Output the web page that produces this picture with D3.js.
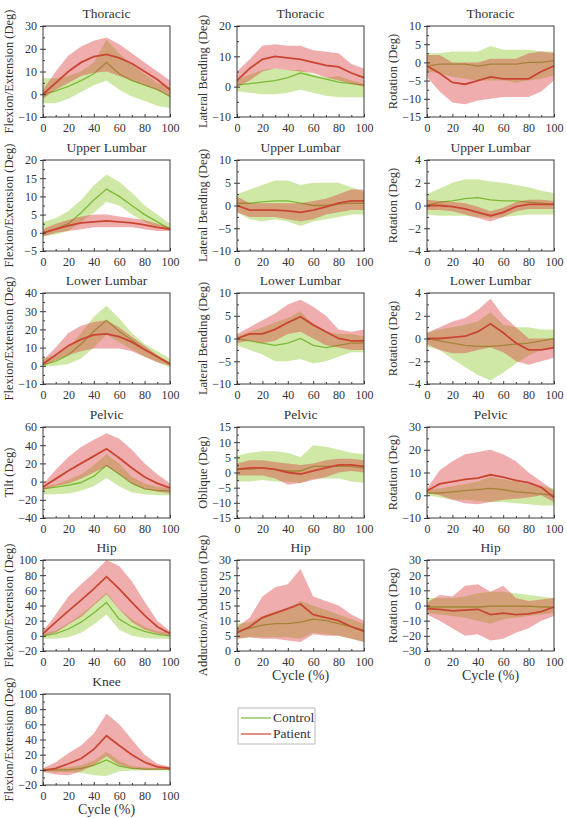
<!DOCTYPE html>
<html><head><meta charset="utf-8">
<script src="https://cdn.jsdelivr.net/npm/d3@7"></script>
<style>
body{margin:0;background:#fff;}
svg text{font-family:"Liberation Serif","DejaVu Serif",serif !important;fill:#333;}
</style></head>
<body><svg id="chart" width="567" height="818"></svg>
<script>
// ---------- DATA ----------
const cycle = [0,10,20,30,40,50,60,70,80,90,100];

const titles = ["Thoracic","Thoracic","Thoracic","Upper Lumbar","Upper Lumbar","Upper Lumbar",
  "Lower Lumbar","Lower Lumbar","Lower Lumbar","Pelvic","Pelvic","Pelvic","Hip","Hip","Hip","Knee"];
const yLabels = ["Flexion/Extension (Deg)","Lateral Bending (Deg)","Rotation (Deg)",
  "Flexion/Extension (Deg)","Lateral Bending (Deg)","Rotation (Deg)",
  "Flexion/Extension (Deg)","Lateral Bending (Deg)","Rotation (Deg)",
  "Tilt (Deg)","Oblique (Deg)","Rotation (Deg)",
  "Flexion/Extension (Deg)","Adduction/Abduction (Deg)","Rotation (Deg)",
  "Flexion/Extension (Deg)"];
const yMin = [-10,-10,-15,-5,-10,-4,-10,-10,-4,-40,-15,-10,-20,0,-30,-20];
const yMax = [30,20,10,20,10,4,40,10,4,60,15,30,100,30,30,100];
const yStep = [10,10,5,5,5,2,10,5,2,20,5,10,20,5,10,20];
const xTicks = [0,20,40,60,80,100];
const xLabel = "Cycle (%)";
const seriesNames = ["Control","Patient"];

// Thoracic flexion/extension
const thFE_cm = [0,1.5,3.5,6,9,14,9,6,4,2,-1];
const thFE_cl = [-4,-4,-2,1,4,6,2,-1,-3,-5,-6];
const thFE_ch = [7,7,8,10,14,24,18,13,9,5,3];
const thFE_pm = [0,5,10,14,16.5,17.5,16,13.5,10,6.5,2];
const thFE_pl = [-2,2,5,8,9.5,10,8,6,4,2,-1];
const thFE_ph = [2,10,17,21,23.5,25,22,18,14,10,6];
// Thoracic lateral bending
const thLB_cm = [0.5,1,1.5,2,3,4.5,3.5,2.5,1.5,1,0.5];
const thLB_cl = [-1.5,-2,-2.5,-2.5,-2,-1,-2,-3,-3.5,-3.5,-3.5];
const thLB_ch = [2,4,5.5,6,5.5,5.5,4,3,3.5,2,1];
const thLB_pm = [2,6,9,10,9.5,9,8,7,6.5,4.5,3];
const thLB_pl = [0,2,5,6,5.5,5,4.5,3,2,1,0];
const thLB_ph = [5,9,13.5,14,13.5,13.5,12,11.5,11,7.5,6];
// Thoracic rotation
const thRO_cm = [-1,-0.5,-0.5,-0.5,-1,-0.5,-0.5,-0.5,0,0,0.5];
const thRO_cl = [-2.5,-3,-4,-4.5,-5,-5,-5,-5.5,-5,-4.5,-3.5];
const thRO_ch = [2.5,2.5,3,3,3,4.5,3.5,3.5,3.5,3,3];
const thRO_pm = [-1,-3,-5.5,-6,-5,-4,-4.5,-4.5,-4.5,-2.5,-1];
const thRO_pl = [-4,-8,-11,-11.5,-10.5,-10,-9.5,-9.5,-9.5,-8,-5];
const thRO_ph = [2,2,0,0,0,1,1,1,2.5,3,2.5];
// Upper lumbar flexion/extension
const ulFE_cm = [0,1,2.5,5.5,9,12,10,7.5,5,3,1];
const ulFE_cl = [-1,-0.5,0.5,3,5.5,8.5,7.5,5,3,1.5,0.5];
const ulFE_ch = [3,4,6,9,13,16,14,11,7.5,5,2.5];
const ulFE_pm = [0,1,2,2.7,3,3.3,3,2.7,2.2,1.5,1];
const ulFE_pl = [-1,0,0.5,1,1.5,1.5,1.5,1.5,1,0.5,0.5];
const ulFE_ph = [1,2.5,3.5,4.5,5,5,4.5,4,3.5,2.5,1.5];
// Upper lumbar lateral bending
const ulLB_cm = [0.5,0.5,0.8,1,1,0.5,0,0,0.3,0.5,0.5];
const ulLB_cl = [-1.5,-3,-3.5,-3,-3.5,-4.5,-3.5,-3,-2.5,-2,-2];
const ulLB_ch = [2.5,3.5,4.5,5.5,5.5,4.5,5,5,5,4,3];
const ulLB_pm = [0,-1,-1,-1,-1.2,-1.5,-1,-0.3,0.5,1,1];
const ulLB_pl = [-1.5,-2.5,-2.5,-2.5,-3,-3.5,-3,-2,-1.5,-1,-1];
const ulLB_ph = [2,0.5,0.5,0.5,0.5,0.5,1,1.5,2.5,3.5,3.5];
// Upper lumbar rotation
const ulRO_cm = [0,0.3,0.4,0.6,0.7,0.5,0.4,0.4,0.3,0.2,0.1];
const ulRO_cl = [-0.8,-0.9,-0.9,-0.9,-1,-1.1,-1,-0.9,-0.8,-0.8,-0.8];
const ulRO_ch = [1,1.5,2,2.3,2.3,2.1,2,1.8,1.6,1.3,1.1];
const ulRO_pm = [0,0,-0.1,-0.3,-0.6,-0.9,-0.6,-0.1,0.1,0.1,0.1];
const ulRO_pl = [-0.4,-0.4,-0.5,-0.8,-1.1,-1.4,-1,-0.5,-0.3,-0.3,-0.3];
const ulRO_ph = [0.5,0.4,0.3,0.2,-0.1,-0.5,-0.2,0.3,0.5,0.5,0.4];
// Lower lumbar flexion/extension
const llFE_cm = [0.5,2.5,6,12,19,25,19,14,9,5,1];
const llFE_cl = [-0.5,0,1,4,10,17,13,9,5,2,-1];
const llFE_ch = [4,6,10,18,27,33,26,18,12,8,4];
const llFE_pm = [1,6,11,14.5,17,17.5,16,13,9,5,1];
const llFE_pl = [0,3,6,8,9.5,9.5,9.5,8,5,2,0];
const llFE_ph = [3,10,18,22,24,25,21,16,11,6,2];
// Lower lumbar lateral bending
const llLB_cm = [0,-0.5,-1,-1.5,-1,0,-1.5,-2,-1.5,-1,-1];
const llLB_cl = [-1.5,-2.5,-3.5,-5,-5,-4.5,-5.5,-5,-4,-3,-3];
const llLB_ch = [0.5,1.5,2.5,3.5,4.5,6,3,1.5,1,1,0.5];
const llLB_pm = [0,1,1,2,3.5,4.8,3,1.5,0,-0.5,-0.5];
const llLB_pl = [-1,-0.5,-1,-0.5,1,1.5,0,-1.5,-2,-2.5,-2.5];
const llLB_ph = [1,2.5,4,5.5,7.5,8.5,7,5,2,1.5,2];
// Lower lumbar rotation
const llRO_cm = [0,-0.2,-0.4,-0.6,-0.7,-0.7,-0.6,-0.5,-0.4,-0.2,0];
const llRO_cl = [-0.7,-1,-1.8,-2.5,-3.2,-3.7,-3,-2.2,-1.5,-1,-0.8];
const llRO_ch = [0.5,0.8,1,1.2,1.5,2.3,1.2,1,1,0.8,0.8];
const llRO_pm = [0,0,0.1,0.2,0.6,1.3,0.5,-0.4,-1,-1,-0.8];
const llRO_pl = [-0.5,-1,-1.3,-1.3,-1,-0.8,-1.2,-2,-2.3,-2,-1.7];
const llRO_ph = [0.5,1,1.5,1.8,2.5,3.5,2,1,0,0,0];
// Pelvic tilt
const peTI_cm = [-8,-6,-4,-1,6,18,8,-2,-8,-10,-10];
const peTI_cl = [-14,-14,-13,-10,-5,4,-5,-12,-14,-15,-15];
const peTI_ch = [-6,-3,2,8,18,30,20,5,-2,-6,-7];
const peTI_pm = [-6,3,12,20,28,36,26,15,5,-2,-7];
const peTI_pl = [-9,-5,-2,3,10,17,8,-2,-8,-11,-13];
const peTI_ph = [-3,13,27,38,46,53,47,35,20,8,-2];
// Pelvic oblique
const peOB_cm = [1,1,1.5,1,0.5,0.5,2,2,2,2,1.5];
const peOB_cl = [-3,-3,-2.5,-3,-3,-3.5,-2,-2,-2,-3,-3.5];
const peOB_ch = [5.5,6.5,7,7,6.5,5,9,8.5,7.5,6.5,6];
const peOB_pm = [1,1.5,1.5,1,0,-0.5,0.5,1.5,2.5,2.5,2];
const peOB_pl = [-1,-1,-1,-2,-4,-3.5,-2.5,-1.5,0,0.5,0];
const peOB_ph = [3,4,4,3.5,3,2.5,3,4,4.5,4.5,4];
// Pelvic rotation
const peRO_cm = [1,1,1.5,2,2.5,3,2.5,1.5,1,0.5,0];
const peRO_cl = [0,-1,-2,-2,-2.5,-3,-3,-3.5,-4,-4.5,-4.5];
const peRO_ch = [2.5,3,4,5,6,8,7,6,5,4,3];
const peRO_pm = [2,5,6,7,7.5,9,8,6.5,5.5,3.5,-1];
const peRO_pl = [1,0,-2,-3.5,-4,-3,-2,-1.5,-1,0,-3];
const peRO_ph = [3,11,15,18,19,20,18,15,10,6,2];
// Hip flexion/extension
const hiFE_cm = [0,3,9,18,30,44,22,12,6,2,0];
const hiFE_cl = [-4,-4,-2,4,15,28,8,0,-3,-4,-4];
const hiFE_ch = [3,7,17,28,42,57,36,22,12,6,4];
const hiFE_pm = [3,18,33,47,62,78,62,44,27,12,3];
const hiFE_pl = [0,4,15,25,40,55,35,18,8,3,0];
const hiFE_ph = [6,28,52,68,83,100,92,72,45,20,6];
// Hip adduction/abduction
const hiAA_cm = [6.5,7.5,8.5,9,9,9.5,10.5,10,9,8,7];
const hiAA_cl = [4,4.5,4.5,4.5,4.5,4,6,5.5,5,4,3];
const hiAA_ch = [9,9.5,11.5,13,14,16.5,15,13.5,12,10.5,9];
const hiAA_pm = [6,8,11,12.5,14,15.5,12,11,10,8,6.5];
const hiAA_pl = [4,4.5,4,4,3.5,3,5.5,5,5,4,3];
const hiAA_ph = [8,11,18,21,22,27,18,16.5,15,12,10];
// Hip rotation
const hiRO_cm = [-1,-1,-1,-1,-1,-0.5,-0.5,-0.5,-0.5,-1,-1];
const hiRO_cl = [-5,-6,-7,-8,-10,-12,-9,-8,-7,-6,-5];
const hiRO_ch = [5,5,5,6,8,9,9,8,7,6,5];
const hiRO_pm = [-2,-2.5,-3.5,-3,-2.5,-6,-5,-6,-5.5,-4,-1];
const hiRO_pl = [-6,-10,-15,-20,-19,-23,-22,-18,-15,-10,-7];
const hiRO_ph = [2,7,6,13,14,9,13,5,3,4,5];
// Knee flexion/extension
const knFE_cm = [0,0,0,2,6,13,5,2,1,1,1];
const knFE_cl = [-2,-3,-3,-4,-7,-8,-2,-1,-1,-1,-1];
const knFE_ch = [2,2,3,6,12,24,12,5,3,2,2];
const knFE_pm = [-1,2,8,15,27,45,32,20,10,4,2];
const knFE_pl = [-3,-6,-7,-2,6,18,6,2,0,0,0];
const knFE_ph = [2,10,22,32,48,74,60,40,20,8,4];

const ctrlMean = [thFE_cm,thLB_cm,thRO_cm,ulFE_cm,ulLB_cm,ulRO_cm,llFE_cm,llLB_cm,llRO_cm,peTI_cm,peOB_cm,peRO_cm,hiFE_cm,hiAA_cm,hiRO_cm,knFE_cm];
const ctrlLo   = [thFE_cl,thLB_cl,thRO_cl,ulFE_cl,ulLB_cl,ulRO_cl,llFE_cl,llLB_cl,llRO_cl,peTI_cl,peOB_cl,peRO_cl,hiFE_cl,hiAA_cl,hiRO_cl,knFE_cl];
const ctrlHi   = [thFE_ch,thLB_ch,thRO_ch,ulFE_ch,ulLB_ch,ulRO_ch,llFE_ch,llLB_ch,llRO_ch,peTI_ch,peOB_ch,peRO_ch,hiFE_ch,hiAA_ch,hiRO_ch,knFE_ch];
const patMean  = [thFE_pm,thLB_pm,thRO_pm,ulFE_pm,ulLB_pm,ulRO_pm,llFE_pm,llLB_pm,llRO_pm,peTI_pm,peOB_pm,peRO_pm,hiFE_pm,hiAA_pm,hiRO_pm,knFE_pm];
const patLo    = [thFE_pl,thLB_pl,thRO_pl,ulFE_pl,ulLB_pl,ulRO_pl,llFE_pl,llLB_pl,llRO_pl,peTI_pl,peOB_pl,peRO_pl,hiFE_pl,hiAA_pl,hiRO_pl,knFE_pl];
const patHi    = [thFE_ph,thLB_ph,thRO_ph,ulFE_ph,ulLB_ph,ulRO_ph,llFE_ph,llLB_ph,llRO_ph,peTI_ph,peOB_ph,peRO_ph,hiFE_ph,hiAA_ph,hiRO_ph,knFE_ph];

// ---------- LAYOUT / STYLE ----------
const colX = [43, 237, 427];
const rowY = [26, 160, 293, 427, 560, 694];
const PW = 127, PH = 91;
const FONT = '"Liberation Serif","DejaVu Serif",serif';
const C = {
  ctrlBand: "rgb(140,200,40)", ctrlLine: "rgb(125,185,55)",
  patBand: "rgb(220,60,60)", patLine: "rgb(200,70,50)", axis: "#3a3a3a"
};

const svg = d3.select("#chart");

titles.forEach((title, i) => {
  const r = Math.floor(i / 3), c = i % 3;
  const g = svg.append("g").attr("transform", `translate(${colX[c]},${rowY[r]})`);
  const x = d3.scaleLinear().domain([0, 100]).range([0, PW]);
  const y = d3.scaleLinear().domain([yMin[i], yMax[i]]).range([PH, 0]);

  const area = (lo, hi) => d3.area().x((d, k) => x(cycle[k])).y0((d, k) => y(lo[k])).y1((d, k) => y(hi[k]))(cycle);
  const line = (m) => d3.line().x((d, k) => x(cycle[k])).y((d, k) => y(m[k]))(cycle);

  g.append("path").attr("d", area(ctrlLo[i], ctrlHi[i])).attr("fill", C.ctrlBand).attr("fill-opacity", 0.42);
  g.append("path").attr("d", line(ctrlMean[i])).attr("fill", "none").attr("stroke", C.ctrlLine).attr("stroke-width", 1.3);
  g.append("path").attr("d", area(patLo[i], patHi[i])).attr("fill", C.patBand).attr("fill-opacity", 0.42);
  g.append("path").attr("d", line(patMean[i])).attr("fill", "none").attr("stroke", C.patLine).attr("stroke-width", 1.8);

  // frame
  g.append("rect").attr("width", PW).attr("height", PH).attr("fill", "none").attr("stroke", C.axis).attr("stroke-width", 1);

  // x axis
  const xa = g.append("g").attr("transform", `translate(0,${PH})`)
    .call(d3.axisBottom(x).tickValues(xTicks).tickSize(-3).tickPadding(6).tickFormat(d3.format("d")));
  xa.attr("font-family", null);
  xa.select(".domain").remove();
  xa.selectAll("line").attr("stroke", C.axis);
  xa.selectAll("text").style("font-family", FONT).attr("font-size", 12).attr("fill", "#333");
  const xm = g.append("g").attr("transform", `translate(0,${PH})`)
    .call(d3.axisBottom(x).tickValues(d3.range(10, 100, 20)).tickSize(-2).tickFormat(""));
  xm.select(".domain").remove();
  xm.selectAll("line").attr("stroke", C.axis);

  // y axis
  const yt = d3.range(yMin[i], yMax[i] + yStep[i] / 2, yStep[i]);
  const ya = g.append("g")
    .call(d3.axisLeft(y).tickValues(yt).tickSizeInner(3).tickSizeOuter(0).tickPadding(3).tickFormat(d3.format("d")));
  ya.attr("font-family", null);
  ya.select(".domain").remove();
  ya.selectAll("line").attr("stroke", C.axis).attr("x2", 3).attr("x1", -3);
  ya.selectAll("text").style("font-family", FONT).attr("font-size", 12).attr("fill", "#333");
  const ym = g.append("g")
    .call(d3.axisLeft(y).tickValues(d3.range(yMin[i] + yStep[i] / 2, yMax[i], yStep[i])).tickSize(-2).tickFormat(""));
  ym.select(".domain").remove();
  ym.selectAll("line").attr("stroke", C.axis);

  // title
  g.append("text").attr("x", PW / 2).attr("y", -8).attr("text-anchor", "middle")
    .style("font-family", FONT).attr("font-size", 13.5).text(title);
  // y label
  g.append("text").attr("transform", `translate(-30,${PH / 2}) rotate(-90)`)
    .attr("text-anchor", "middle").style("font-family", FONT).attr("font-size", 12.5).text(yLabels[i]);
  // x label on bottom panels
  if (i >= 13) {
    g.append("text").attr("x", PW / 2).attr("y", PH + 29).attr("text-anchor", "middle")
      .style("font-family", FONT).attr("font-size", 14).text(xLabel);
  }
});

// legend
const lg = svg.append("g").attr("transform", "translate(238,708)");
lg.append("rect").attr("width", 77).attr("height", 36).attr("fill", "#fff").attr("stroke", "#bbb").attr("stroke-width", 1);
[[C.ctrlLine, seriesNames[0]], [C.patLine, seriesNames[1]]].forEach(([col, name], k) => {
  const yy = 10 + k * 16;
  lg.append("line").attr("x1", 3).attr("x2", 33).attr("y1", yy).attr("y2", yy).attr("stroke", col).attr("stroke-width", 1.2);
  lg.append("text").attr("x", 35).attr("y", yy + 4).style("font-family", FONT).attr("font-size", 13.5).text(name);
});
</script>
</body></html>
